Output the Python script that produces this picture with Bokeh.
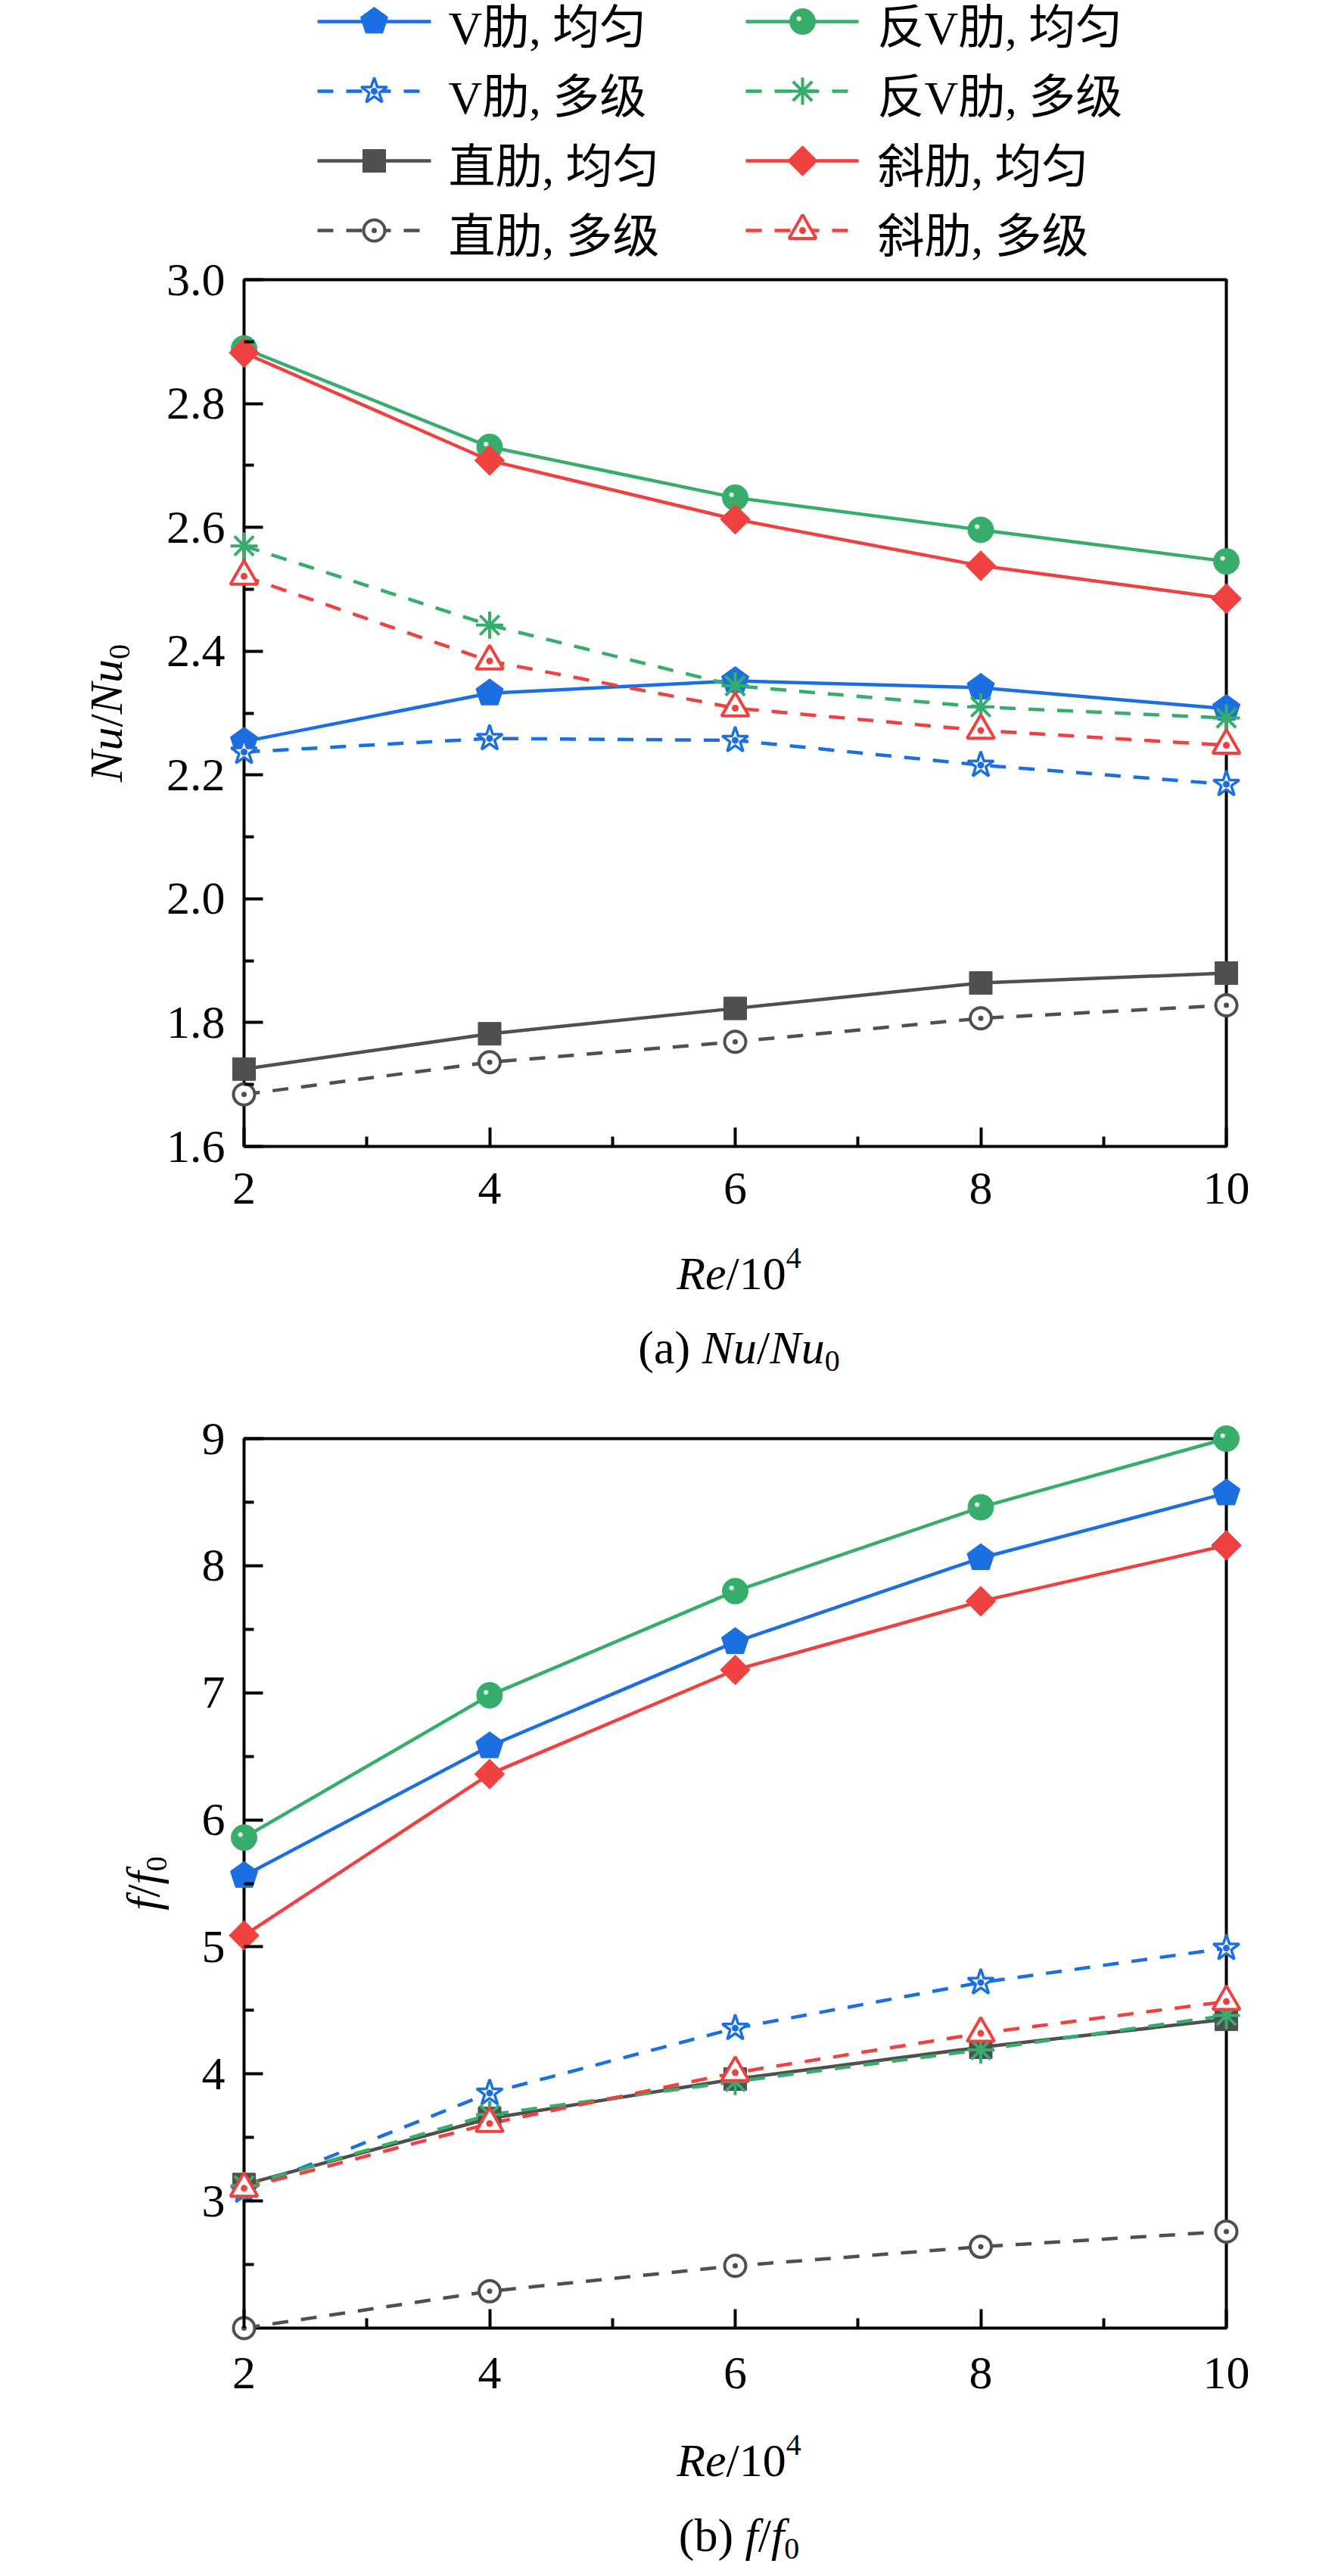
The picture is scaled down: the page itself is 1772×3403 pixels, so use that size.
import math
from bokeh.plotting import figure
from bokeh.models import Range1d, FixedTicker, PrintfTickFormatter, BoxAnnotation, Label, LinearAxis
from bokeh.layouts import column
from bokeh.embed import file_html
from bokeh.resources import INLINE

# ---------------- data ----------------
re_vals = [2, 4, 6, 8, 10]

nu_v_uni = [2.254, 2.332, 2.352, 2.341, 2.307]
nu_v_multi = [2.237, 2.259, 2.256, 2.216, 2.185]
nu_st_uni = [1.725, 1.782, 1.823, 1.864, 1.880]
nu_st_multi = [1.684, 1.736, 1.769, 1.807, 1.828]
nu_rv_uni = [2.889, 2.730, 2.648, 2.596, 2.545]
nu_rv_multi = [2.570, 2.442, 2.344, 2.310, 2.292]
nu_ob_uni = [2.882, 2.708, 2.613, 2.538, 2.485]
nu_ob_multi = [2.521, 2.384, 2.308, 2.272, 2.248]

f_v_uni = [5.56, 6.58, 7.40, 8.06, 8.57]
f_v_multi = [3.08, 3.85, 4.36, 4.72, 4.99]
f_st_uni = [3.13, 3.65, 3.96, 4.21, 4.43]
f_st_multi = [2.00, 2.29, 2.49, 2.64, 2.76]
f_rv_uni = [5.86, 6.98, 7.80, 8.46, 9.00]
f_rv_multi = [3.12, 3.68, 3.94, 4.19, 4.46]
f_ob_uni = [5.09, 6.36, 7.18, 7.72, 8.16]
f_ob_multi = [3.10, 3.61, 4.01, 4.32, 4.57]

x_ticks = [2, 4, 6, 8, 10]
x_minor = [3, 5, 7, 9]
nu_ticks = [1.6, 1.8, 2.0, 2.2, 2.4, 2.6, 2.8, 3.0]
nu_minor = [1.7, 1.9, 2.1, 2.3, 2.5, 2.7, 2.9]
f_ticks = [3, 4, 5, 6, 7, 8, 9]
f_minor = [2.5, 3.5, 4.5, 5.5, 6.5, 7.5, 8.5]

labels_col1 = ["V肋, 均匀", "V肋, 多级", "直肋, 均匀", "直肋, 多级"]
labels_col2 = ["反V肋, 均匀", "反V肋, 多级", "斜肋, 均匀", "斜肋, 多级"]

# ---------------- style ----------------
BLUE = "#1b6fe0"
GREEN = "#37ad6b"
RED = "#f04141"
GRAY = "#4f4f4f"
SERIF = "Liberation Serif, Noto Sans CJK SC"
DASH = "21 17"
FS = 62
LW = 4.5
BASE_FIX = 0.25   # label baseline correction (em)

W = 1756          # figure width (page minus 8px margins)
FL = 110          # frame left inside every figure
PAGE0 = 8
X2_PAGE, X10_PAGE = 330.0, 1628.0
KX = (X10_PAGE - X2_PAGE) / 8.0

series = [
    ("v_uni", nu_v_uni, f_v_uni, BLUE, False, "pentagon"),
    ("v_multi", nu_v_multi, f_v_multi, BLUE, True, "star"),
    ("st_uni", nu_st_uni, f_st_uni, GRAY, False, "square"),
    ("st_multi", nu_st_multi, f_st_multi, GRAY, True, "ocircle"),
    ("rv_uni", nu_rv_uni, f_rv_uni, GREEN, False, "sphere"),
    ("rv_multi", nu_rv_multi, f_rv_multi, GREEN, True, "asterisk"),
    ("ob_uni", nu_ob_uni, f_ob_uni, RED, False, "diamond"),
    ("ob_multi", nu_ob_multi, f_ob_multi, RED, True, "triangle"),
]


def draw_marker(p, xs, ys, kind, color, ky):
    n = len(xs)
    if kind == "pentagon":
        r = 19.0
        angs = [math.pi / 2 + k * 2 * math.pi / 5 for k in range(5)]
        pxs = [[x + r * math.cos(a) / KX for a in angs] for x in xs]
        pys = [[y + r * math.sin(a) / ky for a in angs] for y in ys]
        p.patches(pxs, pys, fill_color=color, line_color=color, line_width=1)
    elif kind == "sphere":
        p.scatter(xs, ys, marker="circle", size=34, fill_color=color, line_color=color, line_width=1)
        p.text(x=xs, y=ys, text=["●"] * n, x_offset=-5, y_offset=-5, text_font_size="15px",
               text_color="#bfe6cc", text_align="center", text_baseline="middle")
        p.text(x=xs, y=ys, text=["●"] * n, x_offset=-5, y_offset=-5, text_font_size="8px",
               text_color="#ffffff", text_align="center", text_baseline="middle")
    elif kind == "star":
        p.scatter(xs, ys, marker="star_dot", size=36, fill_color="white", line_color=color, line_width=3.5)
    elif kind == "square":
        p.scatter(xs, ys, marker="square", size=30, fill_color=color, line_color=color)
    elif kind == "ocircle":
        p.scatter(xs, ys, marker="circle_dot", size=28, fill_color="white", line_color=color, line_width=4)
    elif kind == "asterisk":
        p.scatter(xs, ys, marker="asterisk", size=36, line_color=color, line_width=4)
    elif kind == "diamond":
        p.scatter(xs, ys, marker="square", angle=math.pi / 4, size=28, fill_color=color, line_color=color)
    elif kind == "triangle":
        p.scatter(xs, ys, marker="triangle_dot", size=36, fill_color="white", line_color=color, line_width=4)


# ---------------- rich text helper ----------------
REG = {"(": 0.333, ")": 0.333, "a": 0.444, "b": 0.5, " ": 0.25, "/": 0.278, "1": 0.5, "0": 0.5, "4": 0.5}
ITA = {"R": 0.611, "e": 0.444, "N": 0.667, "u": 0.5, "f": 0.278}


def wid(txt, italic, size):
    tbl = ITA if italic else REG
    return sum(tbl.get(c, 0.5) for c in txt) * size


def rich(p, pieces, x, y, dx=0, dy=0, vertical=False):
    total = sum(wid(t, i, s) for t, i, s, _ in pieces)
    cur = -total / 2
    for t, i, s, sh in pieces:
        common = dict(text=t, text_font=SERIF, text_font_size=f"{s}px",
                      text_font_style="italic" if i else "normal", text_color="black",
                      text_align="left", text_baseline="alphabetic", x=x, y=y)
        fix = BASE_FIX * s
        if vertical:
            lab = Label(x_offset=dx - sh - fix, y_offset=dy + cur, angle=math.pi / 2, **common)
        else:
            lab = Label(x_offset=dx + cur, y_offset=dy + sh + fix, **common)
        p.add_layout(lab)
        cur += wid(t, i, s)


class Panel:
    def __init__(self, page_top, height, ylo, yhi, y_top_page, y_bot_page,
                 yticks, yminor, yfmt, xlab_standoff, mb_bottom):
        self.ylo, self.yhi = ylo, yhi
        self.y_top_page = y_top_page
        fl_page = PAGE0 + FL
        fr_page = PAGE0 + W
        x0 = 2 - (X2_PAGE - fl_page) / KX
        x1 = 10 + (fr_page - X10_PAGE) / KX
        self.ky = (y_bot_page - y_top_page) / (yhi - ylo)
        frame_bot_page = y_bot_page + 25
        y1 = yhi + (y_top_page - page_top) / self.ky
        y0 = ylo - (frame_bot_page - y_bot_page) / self.ky

        p = figure(width=W, height=height, x_range=Range1d(x0, x1), y_range=Range1d(y0, y1),
                   output_backend="svg", toolbar_location=None, title=None,
                   min_border_left=FL, min_border_right=0, min_border_top=0,
                   min_border_bottom=mb_bottom)
        p.outline_line_color = None
        p.grid.visible = False
        p.background_fill_color = "white"
        p.border_fill_color = "white"

        box = BoxAnnotation(left=2, right=10, bottom=ylo, top=yhi, fill_alpha=0, fill_color=None,
                            line_color="black", line_alpha=1.0, line_width=4, level="underlay")
        p.add_layout(box)

        xa = p.xaxis[0]
        xa.ticker = FixedTicker(ticks=x_ticks, minor_ticks=x_minor)
        xa.formatter = PrintfTickFormatter(format="%d")
        xa.axis_line_color = None
        xa.major_tick_line_color = None
        xa.minor_tick_line_color = None
        xa.major_tick_in = 0
        xa.major_tick_out = 0
        xa.minor_tick_in = 0
        xa.minor_tick_out = 0
        xa.major_label_standoff = xlab_standoff
        xa.major_label_text_font = SERIF
        xa.major_label_text_font_size = f"{FS}px"
        xa.major_label_text_color = "black"

        xt = LinearAxis(fixed_location=ylo, ticker=FixedTicker(ticks=x_ticks, minor_ticks=x_minor))
        xt.axis_line_color = None
        xt.major_tick_in = 25
        xt.major_tick_out = 0
        xt.minor_tick_in = 13
        xt.minor_tick_out = 0
        xt.major_tick_line_width = 4
        xt.minor_tick_line_width = 4
        xt.major_label_text_font_size = "1px"
        xt.major_label_text_alpha = 0
        xt.major_label_standoff = 0
        p.add_layout(xt, "below")

        ya = p.yaxis[0]
        ya.fixed_location = 2
        ya.ticker = FixedTicker(ticks=yticks, minor_ticks=yminor)
        ya.formatter = PrintfTickFormatter(format=yfmt)
        ya.axis_line_color = None
        ya.major_tick_in = 25
        ya.major_tick_out = 0
        ya.minor_tick_in = 13
        ya.minor_tick_out = 0
        ya.major_tick_line_width = 4
        ya.minor_tick_line_width = 4
        ya.major_label_standoff = 25
        ya.major_label_text_font = SERIF
        ya.major_label_text_font_size = f"{FS}px"
        ya.major_label_text_color = "black"
        self.p = p

    def dx(self, page_x):
        return 2 + (page_x - X2_PAGE) / KX

    def dy(self, page_y):
        return self.yhi + (self.y_top_page - page_y) / self.ky

    def plot_series(self, ykey):
        for key, nu, f, color, dashed, marker in series:
            ys = nu if ykey == "nu" else f
            self.p.line(re_vals, ys, line_color=color, line_width=LW,
                        line_dash=DASH if dashed else "solid")
        for key, nu, f, color, dashed, marker in series:
            ys = nu if ykey == "nu" else f
            draw_marker(self.p, re_vals, ys, marker, color, self.ky)


# ---------------- panel (a), with legend on top ----------------
A_TOP = PAGE0
A_H = 1635
PA = Panel(A_TOP, A_H, 1.6, 3.0, 377, 1522, nu_ticks, nu_minor, "%.1f", 10, 96)
PA.plot_series("nu")
A = PA.p

rows = [36, 128, 220, 312]
cols = [(427, 577, 502, 600, series[:4], labels_col1), (993, 1142, 1068, 1167, series[4:], labels_col2)]
for x0, x1, xm, xt_, ser, labs in cols:
    for r, s, lab in zip(rows, ser, labs):
        key, nu, f, color, dashed, marker = s
        yy = PA.dy(r)
        A.line([PA.dx(x0), PA.dx(x1)], [yy, yy], line_color=color, line_width=LW,
               line_dash=DASH if dashed else "solid")
        draw_marker(A, [PA.dx(xm)], [yy], marker, color, PA.ky)
        A.add_layout(Label(x=PA.dx(xt_), y=PA.dy(r + 24), y_offset=BASE_FIX * FS, text=lab,
                           text_font=SERIF, text_font_size=f"{FS}px", text_color="black",
                           text_baseline="alphabetic", text_align="left"))

rich(A, [("Nu", True, FS, 0), ("/", False, FS, 0), ("Nu", True, FS, 0), ("0", False, 40, -12)],
     2, 2.3, -167, 0, vertical=True)

# ---------------- panel (b), with caption (a) on top ----------------
B_TOP = A_TOP + A_H           # 1643
B_H = 1570                    # frame 1643..3108, border 105
PB = Panel(B_TOP, B_H, 2.0, 9.0, 1908, 3083, f_ticks, f_minor, "%d", 14, 105)
PB.plot_series("f")
B = PB.p
rich(B, [("Re", True, FS, 0), ("/10", False, FS, 0), ("4", False, 40, 26)],
     PB.dx(984), PB.dy(1705))
rich(B, [("(a) ", False, FS, 0), ("Nu", True, FS, 0), ("/", False, FS, 0), ("Nu", True, FS, 0),
         ("0", False, 40, -12)], PB.dx(984), PB.dy(1803))
rich(B, [("f", True, FS, 0), ("/", False, FS, 0), ("f", True, FS, 0), ("0", False, 40, -12)],
     2, 5.5, -118, 0, vertical=True)

# ---------------- caption (b) ----------------
CB_TOP = B_TOP + B_H          # 3213
CB_H = PAGE0 + 3387 - CB_TOP  # 182
CB = figure(frame_width=W - FL, frame_height=CB_H, x_range=Range1d(FL, W), y_range=Range1d(0, CB_H),
            output_backend="svg", toolbar_location=None, title=None,
            x_axis_location=None, y_axis_location=None,
            min_border_left=FL, min_border_right=0, min_border_top=0, min_border_bottom=0)
CB.outline_line_color = None
CB.grid.visible = False
CB.border_fill_color = "white"
CB.background_fill_color = "white"
rich(CB, [("Re", True, FS, 0), ("/10", False, FS, 0), ("4", False, 40, 26)],
     984 - PAGE0, CB_TOP + CB_H - 3273)
rich(CB, [("(b) ", False, FS, 0), ("f", True, FS, 0), ("/", False, FS, 0), ("f", True, FS, 0),
          ("0", False, 40, -12)], 984 - PAGE0, CB_TOP + CB_H - 3372)

page = column(A, B, CB, spacing=0)
open("out.html", "w").write(file_html(page, INLINE))
